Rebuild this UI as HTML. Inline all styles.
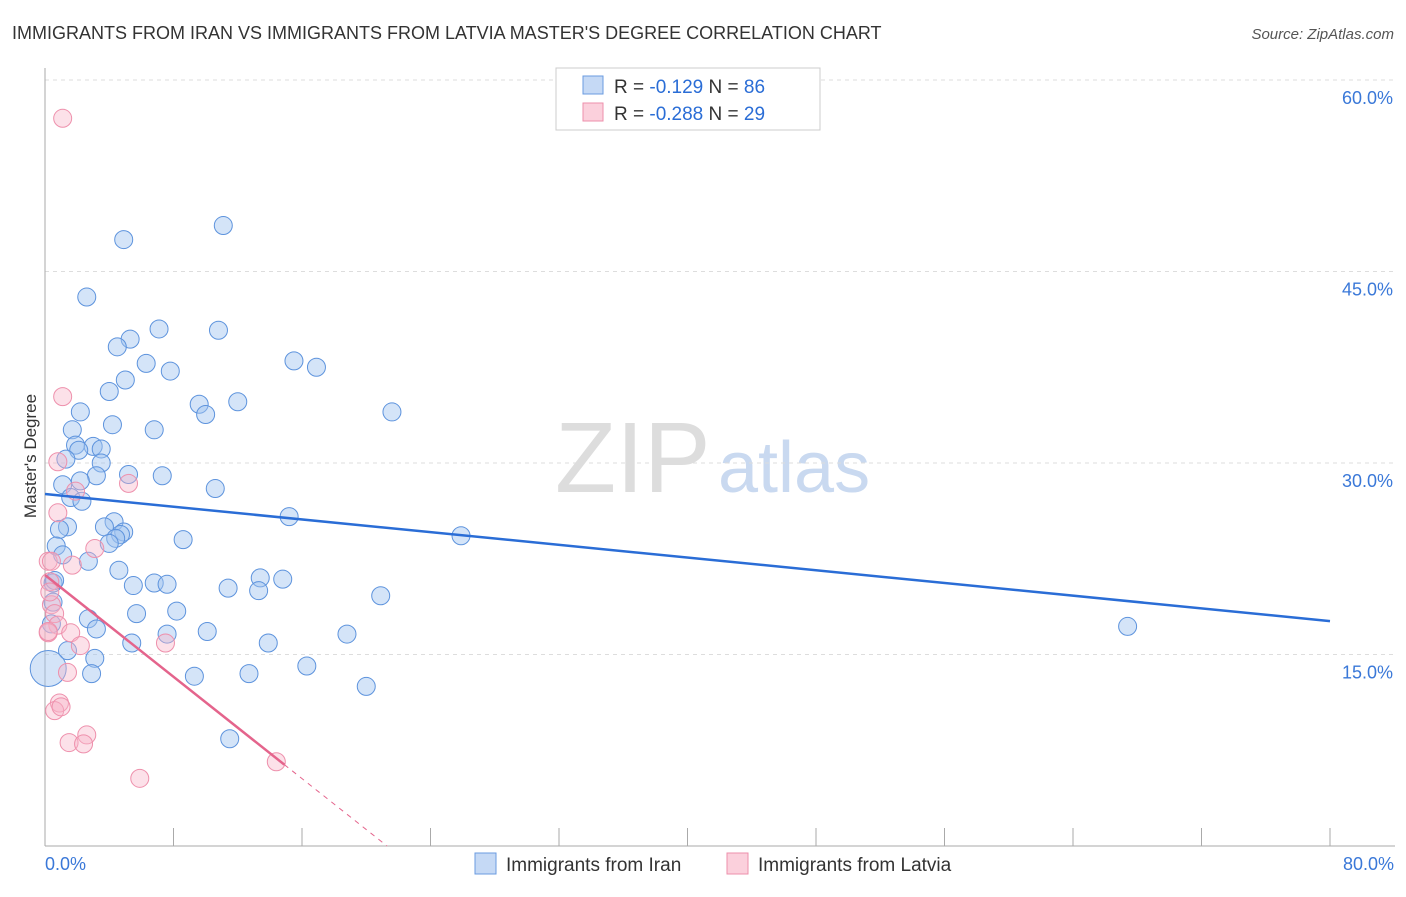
<!DOCTYPE html>
<html><head><meta charset="utf-8"><style>
body{margin:0;background:#fff;font-family:"Liberation Sans",sans-serif}
svg text{font-family:"Liberation Sans",sans-serif}
</style></head><body>
<svg id="c" width="1406" height="892">
<text x="12" y="39" font-size="18" fill="#333">IMMIGRANTS FROM IRAN VS IMMIGRANTS FROM LATVIA MASTER'S DEGREE CORRELATION CHART</text>
<text x="1394" y="39" font-size="15" fill="#555" font-style="italic" text-anchor="end">Source: ZipAtlas.com</text>
<text x="36" y="456" font-size="17" fill="#333" text-anchor="middle" transform="rotate(-90 36 456)">Master's Degree</text>
<text x="555" y="492" font-size="100" fill="#ddd" font-family="Liberation Serif">ZIP</text>
<text x="718" y="492" font-size="72" fill="#c9d9f0">atlas</text>
<g id="grid"></g><g id="pts"></g><g id="lines"></g>
<g>
<rect x="556" y="68" width="264" height="62" fill="#fff" stroke="#ccc"/>
<rect x="583" y="76" width="20" height="18" fill="#c5d9f5" stroke="#6a9be0"/>
<rect x="583" y="103" width="20" height="18" fill="#fbd0dc" stroke="#ee8fab"/>
<text x="614" y="93" font-size="19" fill="#333">R = <tspan fill="#2a6dd6">-0.129</tspan>   N = <tspan fill="#2a6dd6">86</tspan></text>
<text x="614" y="120" font-size="19" fill="#333">R = <tspan fill="#2a6dd6">-0.288</tspan>   N = <tspan fill="#2a6dd6">29</tspan></text>
</g>
<g>
<rect x="475" y="853" width="21" height="21" fill="#c5d9f5" stroke="#6a9be0"/>
<text x="506" y="871" font-size="19" fill="#333">Immigrants from Iran</text>
<rect x="727" y="853" width="21" height="21" fill="#fbd0dc" stroke="#ee8fab"/>
<text x="758" y="871" font-size="19" fill="#333">Immigrants from Latvia</text>
</g>
</svg>
<script>
const yTicks=[15,30,45,60];
const xTickLabels=["0.0%","80.0%"];
const blueX=[4.9,11.1,2.6,7.1,10.8,5.3,4.5,6.3,7.8,15.5,16.9,5.0,4.0,9.6,12.0,10.0,2.2,21.6,4.2,6.8,1.7,1.9,3.0,3.5,2.1,1.3,3.5,3.2,5.2,7.3,2.2,1.1,10.6,1.6,2.3,15.2,4.3,3.7,1.4,0.9,4.9,4.7,4.4,4.0,25.9,8.6,0.7,2.7,1.1,4.6,0.5,0.6,6.8,7.6,5.5,11.4,13.4,14.8,13.3,20.9,8.2,5.7,2.7,3.2,0.4,7.6,10.1,18.8,67.4,5.4,1.4,13.9,3.1,2.9,9.3,12.7,16.3,20.0,11.5,0.2,0.5];
const blueY=[47.5,48.6,43.0,40.5,40.4,39.7,39.1,37.8,37.2,38.0,37.5,36.5,35.6,34.6,34.8,33.8,34.0,34.0,33.0,32.6,32.6,31.4,31.3,31.1,31.0,30.3,30.0,29.0,29.1,29.0,28.6,28.3,28.0,27.3,27.0,25.8,25.4,25.0,25.0,24.8,24.6,24.4,24.1,23.7,24.3,24.0,23.5,22.3,22.8,21.6,20.6,20.8,20.6,20.5,20.4,20.2,21.0,20.9,20.0,19.6,18.4,18.2,17.8,17.0,17.4,16.6,16.8,16.6,17.2,15.9,15.3,15.9,14.7,13.5,13.3,13.5,14.1,12.5,8.4,13.9,19.1];
const pinkX=[1.1,1.1,0.8,5.2,1.9,0.8,3.1,1.7,0.2,0.3,0.4,0.6,0.8,1.6,0.2,2.2,7.5,1.4,0.9,0.6,2.6,1.5,2.4,5.9,14.4,0.3,0.4,0.2,1.0];
const pinkY=[57.0,35.2,30.1,28.4,27.8,26.1,23.3,22.0,22.3,20.7,18.9,18.2,17.3,16.7,16.7,15.7,15.9,13.6,11.2,10.6,8.7,8.1,8.0,5.3,6.6,19.9,22.3,16.8,10.9];
const blueFit=[27.57,-0.1244];
const pinkFit=[21.23,-0.997];
const X=v=>45+v/80*1285, Y=v=>846-v/60*766;
const ns="http://www.w3.org/2000/svg";
function mk(tag,parent,attrs){const e=document.createElementNS(ns,tag);for(const k in attrs)e.setAttribute(k,attrs[k]);parent.appendChild(e);return e;}
const g=document.getElementById('grid');
yTicks.forEach(t=>{
 const l=mk('line',g,{x1:45,x2:1395,y1:Y(t),y2:Y(t),stroke:'#ddd','stroke-dasharray':'4 4'});
 
 
 const tx=mk('text',g,{x:1393,y:Y(t)+24,'font-size':18,fill:'#3a78d8','text-anchor':'end'});tx.textContent=t.toFixed(1)+'%';
 
 
});
const ax=mk('line',g,{x1:45,x2:1395,y1:846,y2:846,stroke:'#aaa'});


const ay=mk('line',g,{x1:45,x2:45,y1:68,y2:846,stroke:'#aaa'});


for(let k=1;k<=10;k++){const tk=mk('line',g,{x1:X(k*8),x2:X(k*8),y1:828,y2:846,stroke:'#aaa'});
 
 }
[[0,'start',45],[80,'end',1394]].forEach((a,i)=>{const t=mk('text',g,{x:a[2],y:870,'font-size':18,fill:'#3a78d8','text-anchor':a[1]});t.textContent=xTickLabels[i];
 
 });
const p=document.getElementById('pts');
blueX.forEach((x,i)=>{const r=(i==blueX.length-2)?18:9;const c=mk('circle',p,{cx:X(x),cy:Y(blueY[i]),r:r,fill:'rgba(160,195,240,0.45)',stroke:'#5d93dd','stroke-width':1});
 
 });
pinkX.forEach((x,i)=>{const c=mk('circle',p,{cx:X(x),cy:Y(pinkY[i]),r:9,fill:'rgba(248,180,200,0.4)',stroke:'#ee90ac','stroke-width':1});
 
 });
const L=document.getElementById('lines');
const bl=mk('line',L,{x1:X(0),y1:Y(blueFit[0]),x2:X(80),y2:Y(blueFit[0]+80*blueFit[1]),stroke:'#2a6dd6','stroke-width':2.5});


const pe=14.9, pz=-pinkFit[0]/pinkFit[1];
const pl=mk('line',L,{x1:X(0),y1:Y(pinkFit[0]),x2:X(pe),y2:Y(pinkFit[0]+pe*pinkFit[1]),stroke:'#e4648c','stroke-width':2.5});


const pd=mk('line',L,{x1:X(pe),y1:Y(pinkFit[0]+pe*pinkFit[1]),x2:X(pz),y2:Y(0),stroke:'#e4648c','stroke-width':1,'stroke-dasharray':'5 5'});


</script>
</body></html>
